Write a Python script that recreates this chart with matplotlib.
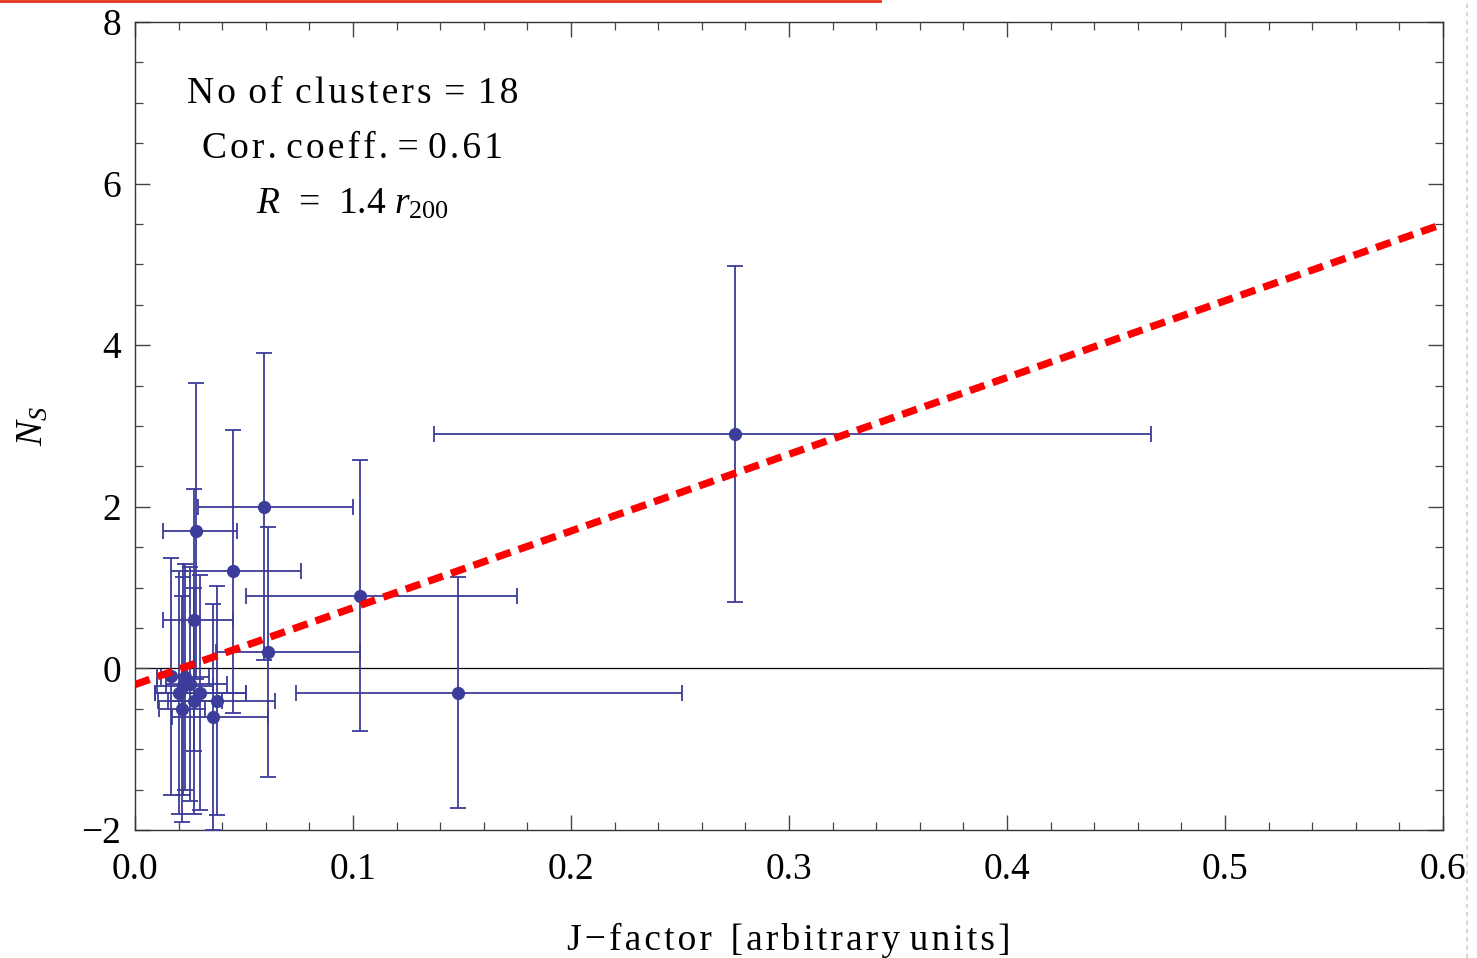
import matplotlib
matplotlib.use("Agg")
import matplotlib.pyplot as plt
from matplotlib.ticker import MultipleLocator, FixedLocator
from matplotlib.lines import Line2D
import numpy as np

# ---- data ----
jfactor = [0.275, 0.148, 0.103, 0.059, 0.061, 0.045, 0.028, 0.027,
           0.0164, 0.023, 0.025, 0.020, 0.030, 0.027, 0.0375, 0.0215, 0.036, 0.022]
ns      = [2.9, -0.3, 0.9, 2.0, 0.2, 1.2, 1.7, 0.6,
           -0.10, -0.11, -0.19, -0.30, -0.30, -0.40, -0.40, -0.50, -0.60, -0.22]
x_lo    = [0.137, 0.074, 0.051, 0.029, 0.037, 0.022, 0.013, 0.013,
           0.010, 0.012, 0.014, 0.009, 0.009, 0.015, 0.0105, 0.011, 0.017, 0.010]
x_hi    = [0.466, 0.251, 0.175, 0.100, 0.103, 0.076, 0.047, 0.045,
           0.024, 0.034, 0.042, 0.051, 0.051, 0.040, 0.064, 0.032, 0.061, 0.036]
ns_err  = [2.08, 1.43, 1.68, 1.90, 1.55, 1.75, 1.83, 1.62,
           1.47, 1.40, 1.45, 1.50, 1.45, 1.40, 1.42, 1.40, 1.40, 1.35]

fit_intercept = -0.2
fit_slope = 9.5

xticks = [0.0, 0.1, 0.2, 0.3, 0.4, 0.5, 0.6]
xtick_labels = ["0.0", "0.1", "0.2", "0.3", "0.4", "0.5", "0.6"]
yticks = [-2, 0, 2, 4, 6, 8]
ytick_labels = ["\u22122", "0", "2", "4", "6", "8"]

# ---- figure ----
plt.rcParams['font.family'] = ['Liberation Serif', 'DejaVu Serif']
plt.rcParams['mathtext.fontset'] = 'custom'
plt.rcParams['mathtext.rm'] = 'Liberation Serif'
plt.rcParams['mathtext.it'] = 'Liberation Serif:italic'


def spaced(s):
    return '\u200a'.join(s)


fig = plt.figure(figsize=(14.77, 9.58), dpi=100)
ax = fig.add_axes([135/1477, 1 - 830/958, (1443-135)/1477, (830-22)/958])

jf = np.array(jfactor)
nsv = np.array(ns)
xerr = np.vstack([jf - np.array(x_lo), np.array(x_hi) - jf])

col = '#3c3c9a'
ax.errorbar(jf, nsv, xerr=xerr, yerr=ns_err, fmt='o', color=col, ecolor=col,
            markersize=8.5, elinewidth=1.3, capsize=6, capthick=1.3, zorder=3)

ax.axhline(0, color='black', lw=0.9, zorder=1)

xl = np.array([0.0, 0.6])
ax.plot(xl, fit_intercept + fit_slope * xl, color='#ff0000', lw=5.3,
        dashes=(2.1, 1.15), zorder=4)

ax.set_xlim(0, 0.6)
ax.set_ylim(-2, 8)

ax.xaxis.set_major_locator(FixedLocator(xticks))
ax.set_xticklabels(xtick_labels)
ax.xaxis.set_minor_locator(MultipleLocator(0.02))
ax.yaxis.set_major_locator(FixedLocator(yticks))
ax.set_yticklabels(ytick_labels)
ax.yaxis.set_minor_locator(MultipleLocator(0.5))

ax.tick_params(which='both', direction='in', top=True, right=True,
               labelsize=27, color='#444444')
ax.tick_params(axis='x', which='major', length=11, width=1.0, pad=16)
ax.tick_params(axis='y', which='major', length=11, width=1.0, pad=10)
ax.tick_params(which='minor', length=6, width=0.9)
for s in ax.spines.values():
    s.set_linewidth(1.0)
    s.set_color('#333333')

ax.set_xlabel(spaced("J\u2212factor") + "  " + spaced("[arbitrary") + " " + spaced("units]"),
              fontsize=27, labelpad=26)
ax.set_ylabel(r"$N_S$", fontsize=27, labelpad=22)

sp = " \u200a"
ax.text(0.1, 7.11, spaced("No") + sp + spaced("of") + sp + spaced("clusters") + sp + "=" + sp + spaced("18"),
        fontsize=27, ha='center', va='center')
ax.text(0.1, 6.43, spaced("Cor.") + " " + spaced("coeff.") + " = " + spaced("0.61"),
        fontsize=27, ha='center', va='center')
ax.text(0.1, 5.74, r"$R\ \,=\ \,1.4\ r_{200}$", fontsize=27, ha='center', va='center')

# page artifacts
fig.add_artist(Line2D([0, 880/1477], [1 - 1/958, 1 - 1/958], color='#e8321e', lw=2))
fig.add_artist(Line2D([1467/1477, 1467/1477], [0, 1], color='#d8d8d8', lw=1.5,
                      dashes=(2, 2)))

fig.savefig("out.png", dpi=100)
